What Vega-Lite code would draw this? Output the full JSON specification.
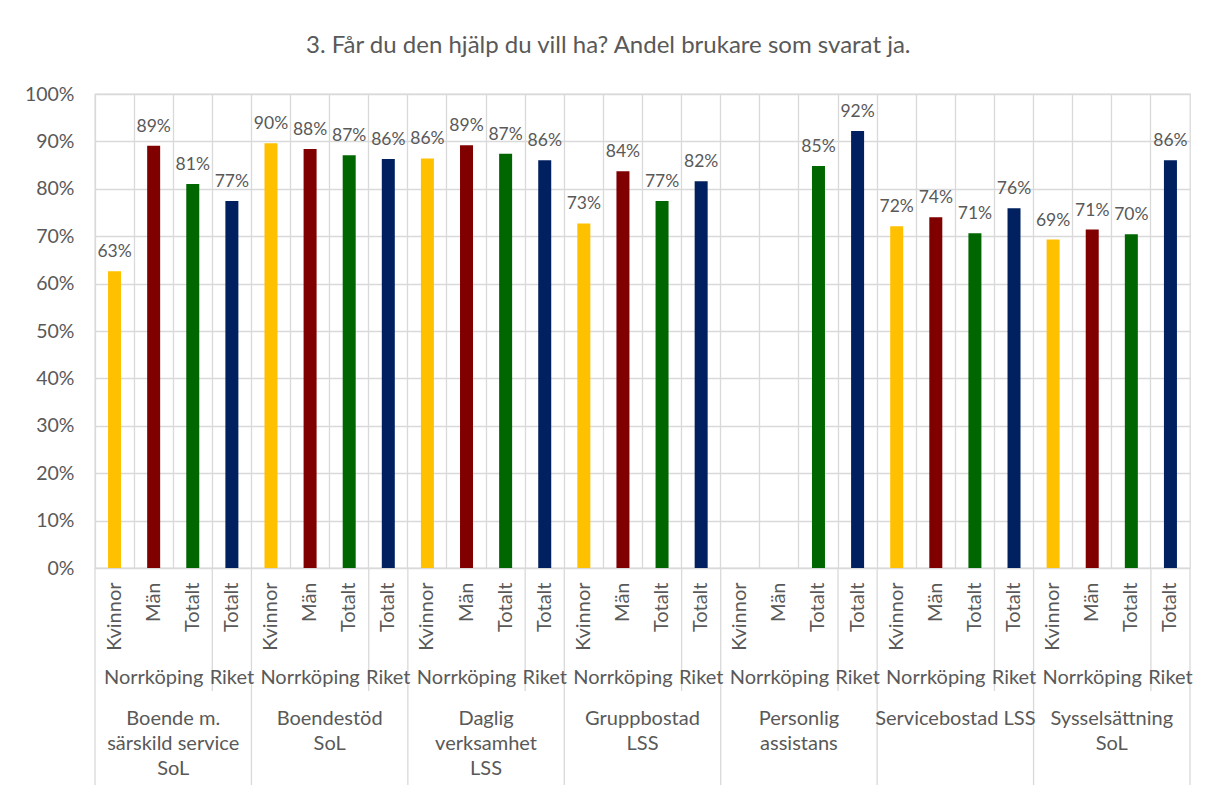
{
  "$schema": "https://vega.github.io/schema/vega-lite/v6.json",
  "background": "white",
  "padding": {"left": 23, "top": 34, "right": 10, "bottom": 0},
  "bounds": "flush",
  "spacing": 0,
  "title": {
    "text": "3. Får du den hjälp du vill ha? Andel brukare som svarat ja.",
    "font": "Lato", "fontSize": 24, "fontWeight": "normal", "color": "#595959",
    "anchor": "middle", "frame": "bounds", "offset": 25
  },
  "datasets": {
    "bars": [
      {"group": "Boende m. särskild service SoL", "glabel": "Boende m.\nsärskild service\nSoL", "area": "Norrköping", "sub": "Kvinnor", "series": "Kvinnor", "key": "G1 Kvinnor", "value": 0.626},
      {"group": "Boende m. särskild service SoL", "glabel": "Boende m.\nsärskild service\nSoL", "area": "Norrköping", "sub": "Män", "series": "Män", "key": "G1 Män", "value": 0.891},
      {"group": "Boende m. särskild service SoL", "glabel": "Boende m.\nsärskild service\nSoL", "area": "Norrköping", "sub": "Totalt", "series": "Totalt Norrköping", "key": "G1 Totalt", "value": 0.810},
      {"group": "Boende m. särskild service SoL", "glabel": "Boende m.\nsärskild service\nSoL", "area": "Riket", "sub": "Totalt", "series": "Totalt Riket", "key": "G1 Riket", "value": 0.774},
      {"group": "Boendestöd SoL", "glabel": "Boendestöd\nSoL", "area": "Norrköping", "sub": "Kvinnor", "series": "Kvinnor", "key": "G2 Kvinnor", "value": 0.896},
      {"group": "Boendestöd SoL", "glabel": "Boendestöd\nSoL", "area": "Norrköping", "sub": "Män", "series": "Män", "key": "G2 Män", "value": 0.884},
      {"group": "Boendestöd SoL", "glabel": "Boendestöd\nSoL", "area": "Norrköping", "sub": "Totalt", "series": "Totalt Norrköping", "key": "G2 Totalt", "value": 0.871},
      {"group": "Boendestöd SoL", "glabel": "Boendestöd\nSoL", "area": "Riket", "sub": "Totalt", "series": "Totalt Riket", "key": "G2 Riket", "value": 0.863},
      {"group": "Daglig verksamhet LSS", "glabel": "Daglig\nverksamhet\nLSS", "area": "Norrköping", "sub": "Kvinnor", "series": "Kvinnor", "key": "G3 Kvinnor", "value": 0.864},
      {"group": "Daglig verksamhet LSS", "glabel": "Daglig\nverksamhet\nLSS", "area": "Norrköping", "sub": "Män", "series": "Män", "key": "G3 Män", "value": 0.892},
      {"group": "Daglig verksamhet LSS", "glabel": "Daglig\nverksamhet\nLSS", "area": "Norrköping", "sub": "Totalt", "series": "Totalt Norrköping", "key": "G3 Totalt", "value": 0.874},
      {"group": "Daglig verksamhet LSS", "glabel": "Daglig\nverksamhet\nLSS", "area": "Riket", "sub": "Totalt", "series": "Totalt Riket", "key": "G3 Riket", "value": 0.860},
      {"group": "Gruppbostad LSS", "glabel": "Gruppbostad\nLSS", "area": "Norrköping", "sub": "Kvinnor", "series": "Kvinnor", "key": "G4 Kvinnor", "value": 0.727},
      {"group": "Gruppbostad LSS", "glabel": "Gruppbostad\nLSS", "area": "Norrköping", "sub": "Män", "series": "Män", "key": "G4 Män", "value": 0.837},
      {"group": "Gruppbostad LSS", "glabel": "Gruppbostad\nLSS", "area": "Norrköping", "sub": "Totalt", "series": "Totalt Norrköping", "key": "G4 Totalt", "value": 0.774},
      {"group": "Gruppbostad LSS", "glabel": "Gruppbostad\nLSS", "area": "Riket", "sub": "Totalt", "series": "Totalt Riket", "key": "G4 Riket", "value": 0.816},
      {"group": "Personlig assistans", "glabel": "Personlig\nassistans", "area": "Norrköping", "sub": "Kvinnor", "series": "Kvinnor", "key": "G5 Kvinnor", "value": null},
      {"group": "Personlig assistans", "glabel": "Personlig\nassistans", "area": "Norrköping", "sub": "Män", "series": "Män", "key": "G5 Män", "value": null},
      {"group": "Personlig assistans", "glabel": "Personlig\nassistans", "area": "Norrköping", "sub": "Totalt", "series": "Totalt Norrköping", "key": "G5 Totalt", "value": 0.848},
      {"group": "Personlig assistans", "glabel": "Personlig\nassistans", "area": "Riket", "sub": "Totalt", "series": "Totalt Riket", "key": "G5 Riket", "value": 0.922},
      {"group": "Servicebostad LSS", "glabel": "Servicebostad LSS", "area": "Norrköping", "sub": "Kvinnor", "series": "Kvinnor", "key": "G6 Kvinnor", "value": 0.721},
      {"group": "Servicebostad LSS", "glabel": "Servicebostad LSS", "area": "Norrköping", "sub": "Män", "series": "Män", "key": "G6 Män", "value": 0.740},
      {"group": "Servicebostad LSS", "glabel": "Servicebostad LSS", "area": "Norrköping", "sub": "Totalt", "series": "Totalt Norrköping", "key": "G6 Totalt", "value": 0.706},
      {"group": "Servicebostad LSS", "glabel": "Servicebostad LSS", "area": "Riket", "sub": "Totalt", "series": "Totalt Riket", "key": "G6 Riket", "value": 0.759},
      {"group": "Sysselsättning SoL", "glabel": "Sysselsättning\nSoL", "area": "Norrköping", "sub": "Kvinnor", "series": "Kvinnor", "key": "G7 Kvinnor", "value": 0.693},
      {"group": "Sysselsättning SoL", "glabel": "Sysselsättning\nSoL", "area": "Norrköping", "sub": "Män", "series": "Män", "key": "G7 Män", "value": 0.714},
      {"group": "Sysselsättning SoL", "glabel": "Sysselsättning\nSoL", "area": "Norrköping", "sub": "Totalt", "series": "Totalt Norrköping", "key": "G7 Totalt", "value": 0.704},
      {"group": "Sysselsättning SoL", "glabel": "Sysselsättning\nSoL", "area": "Riket", "sub": "Totalt", "series": "Totalt Riket", "key": "G7 Riket", "value": 0.860}
    ]
  },
  "vconcat": [
    {
      "width": 1095,
      "height": 474,
      "view": {"stroke": "#d9d9d9", "strokeWidth": 1.3},
      "data": {"name": "bars"},
      "transform": [{"filter": "isValid(datum.value)"}],
      "encoding": {
        "x": {
          "field": "key", "type": "nominal", "sort": null,
          "scale": {"domain": ["G1 Kvinnor","G1 Män","G1 Totalt","G1 Riket","G2 Kvinnor","G2 Män","G2 Totalt","G2 Riket","G3 Kvinnor","G3 Män","G3 Totalt","G3 Riket","G4 Kvinnor","G4 Män","G4 Totalt","G4 Riket","G5 Kvinnor","G5 Män","G5 Totalt","G5 Riket","G6 Kvinnor","G6 Män","G6 Totalt","G6 Riket","G7 Kvinnor","G7 Män","G7 Totalt","G7 Riket"], "paddingInner": 0, "paddingOuter": 0},
          "axis": {"grid": true, "bandPosition": 0, "labels": false, "ticks": false, "domain": false, "title": null, "gridColor": "#d9d9d9", "gridWidth": 1.3}
        },
        "y": {
          "field": "value", "type": "quantitative",
          "scale": {"domain": [0, 1]},
          "axis": {"values": [0, 0.1, 0.2, 0.3, 0.4, 0.5, 0.6, 0.7, 0.8, 0.9, 1], "format": ".0%", "grid": true, "gridColor": "#d9d9d9", "gridWidth": 1.3, "domain": false, "ticks": false, "labelPadding": 21, "labelFontSize": 19.5, "labelColor": "#595959", "labelFont": "Lato", "title": null}
        }
      },
      "layer": [
        {
          "mark": {"type": "bar", "width": 13},
          "encoding": {
            "color": {"field": "series", "type": "nominal", "scale": {"domain": ["Kvinnor", "Män", "Totalt Norrköping", "Totalt Riket"], "range": ["#FFC000", "#800000", "#006600", "#002060"]}, "legend": null}
          }
        },
        {
          "mark": {"type": "text", "baseline": "alphabetic", "dy": -14, "fontSize": 17.5, "font": "Lato", "color": "#595959"},
          "encoding": {"text": {"field": "value", "type": "quantitative", "format": ".0%"}}
        }
      ]
    },
    {
      "width": 1095,
      "height": 123,
      "data": {"name": "bars"},
      "layer": [
        {
          "transform": [{"filter": "datum.sub === 'Kvinnor' || datum.area === 'Riket'"}],
          "mark": {"type": "rule", "color": "#d9d9d9", "strokeWidth": 1.3},
          "encoding": {"x": {"field": "key", "type": "nominal", "bandPosition": 0, "scale": {"domain": ["G1 Kvinnor","G1 Män","G1 Totalt","G1 Riket","G2 Kvinnor","G2 Män","G2 Totalt","G2 Riket","G3 Kvinnor","G3 Män","G3 Totalt","G3 Riket","G4 Kvinnor","G4 Män","G4 Totalt","G4 Riket","G5 Kvinnor","G5 Män","G5 Totalt","G5 Riket","G6 Kvinnor","G6 Män","G6 Totalt","G6 Riket","G7 Kvinnor","G7 Män","G7 Totalt","G7 Riket"], "paddingInner": 0, "paddingOuter": 0}, "axis": null}}
        },
        {
          "transform": [{"filter": "datum.key === 'G7 Riket'"}],
          "mark": {"type": "rule", "color": "#d9d9d9", "strokeWidth": 1.3},
          "encoding": {"x": {"field": "key", "type": "nominal", "bandPosition": 1, "axis": null}}
        },
        {
          "mark": {"type": "text", "angle": 270, "align": "right", "baseline": "middle", "dx": 47, "fontSize": 20, "font": "Lato", "color": "#595959"},
          "encoding": {"x": {"field": "key", "type": "nominal", "axis": null}, "text": {"field": "sub"}}
        },
        {
          "transform": [{"filter": "datum.sub === 'Män' || datum.area === 'Riket'"}],
          "mark": {"type": "text", "align": "center", "baseline": "middle", "dy": 48, "fontSize": 20, "font": "Lato", "color": "#595959"},
          "encoding": {"x": {"field": "key", "type": "nominal", "axis": null}, "text": {"field": "area"}}
        }
      ]
    },
    {
      "width": 1095,
      "height": 94,
      "data": {"name": "bars"},
      "layer": [
        {
          "transform": [{"filter": "datum.sub === 'Kvinnor'"}],
          "mark": {"type": "rule", "color": "#d9d9d9", "strokeWidth": 1.3},
          "encoding": {"x": {"field": "key", "type": "nominal", "bandPosition": 0, "scale": {"domain": ["G1 Kvinnor","G1 Män","G1 Totalt","G1 Riket","G2 Kvinnor","G2 Män","G2 Totalt","G2 Riket","G3 Kvinnor","G3 Män","G3 Totalt","G3 Riket","G4 Kvinnor","G4 Män","G4 Totalt","G4 Riket","G5 Kvinnor","G5 Män","G5 Totalt","G5 Riket","G6 Kvinnor","G6 Män","G6 Totalt","G6 Riket","G7 Kvinnor","G7 Män","G7 Totalt","G7 Riket"], "paddingInner": 0, "paddingOuter": 0}, "axis": null}}
        },
        {
          "transform": [{"filter": "datum.key === 'G7 Riket'"}],
          "mark": {"type": "rule", "color": "#d9d9d9", "strokeWidth": 1.3},
          "encoding": {"x": {"field": "key", "type": "nominal", "bandPosition": 1, "axis": null}}
        },
        {
          "transform": [{"filter": "datum.sub === 'Totalt' && datum.area === 'Norrköping'"}],
          "mark": {"type": "text", "align": "center", "baseline": "top", "lineBreak": "\n", "lineHeight": 25, "dy": -29, "fontSize": 20, "font": "Lato", "color": "#595959"},
          "encoding": {"x": {"field": "key", "type": "nominal", "bandPosition": 0, "axis": null}, "text": {"field": "glabel"}}
        }
      ]
    }
  ],
  "config": {
    "font": "Lato",
    "view": {"stroke": null},
    "text": {"font": "Lato", "color": "#595959"}
  }
}
